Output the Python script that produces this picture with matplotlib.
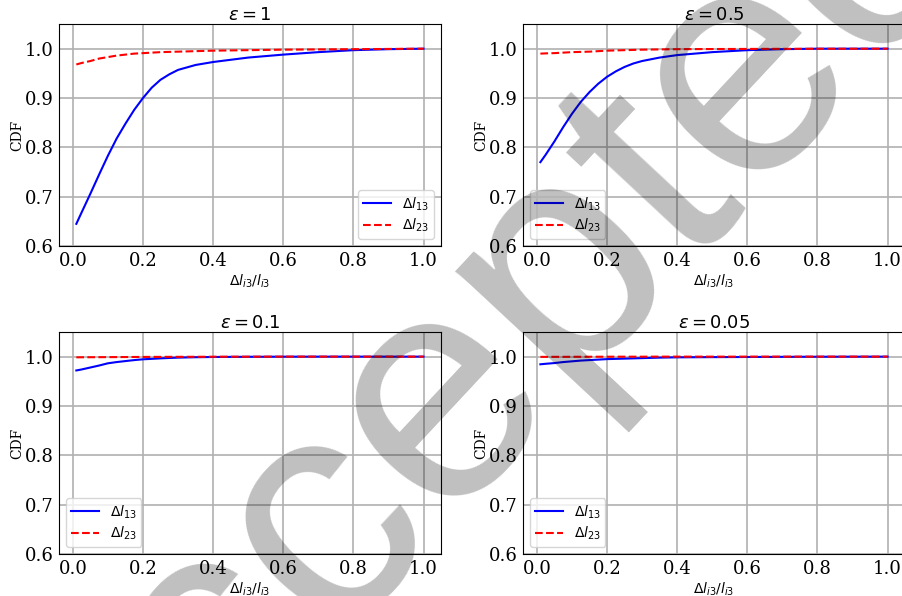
import numpy as np
import matplotlib
matplotlib.use('Agg')
import matplotlib.pyplot as plt

plt.rcParams['font.family'] = 'DejaVu Serif'
plt.rcParams['mathtext.fontset'] = 'dejavusans'

x = [0.01, 0.025, 0.05, 0.075, 0.1, 0.125, 0.15, 0.175, 0.2, 0.225, 0.25,
     0.275, 0.3, 0.35, 0.4, 0.5, 0.6, 0.7, 0.8, 0.9, 1.0]

# eps = 1
e1_13 = [0.645, 0.668, 0.706, 0.745, 0.783, 0.818, 0.848, 0.876, 0.900, 0.921, 0.937,
         0.948, 0.957, 0.967, 0.973, 0.982, 0.988, 0.993, 0.997, 0.999, 1.0]
e1_23 = [0.968, 0.971, 0.975, 0.980, 0.983, 0.986, 0.988, 0.990, 0.991, 0.992, 0.993,
         0.9935, 0.994, 0.995, 0.996, 0.997, 0.998, 0.9985, 0.999, 0.9995, 1.0]
# eps = 0.5
e05_13 = [0.770, 0.785, 0.812, 0.841, 0.868, 0.892, 0.912, 0.929, 0.943, 0.954, 0.963,
          0.970, 0.975, 0.982, 0.987, 0.993, 0.997, 0.999, 1.0, 1.0, 1.0]
e05_23 = [0.990, 0.9905, 0.991, 0.992, 0.993, 0.9935, 0.994, 0.995, 0.996, 0.9965, 0.997,
          0.9975, 0.998, 0.9985, 0.999, 0.9993, 0.9995, 0.9997, 0.9998, 0.9999, 1.0]
# eps = 0.1
e01_13 = [0.972, 0.974, 0.978, 0.982, 0.9865, 0.989, 0.991, 0.993, 0.9946, 0.9955, 0.9965,
          0.9973, 0.998, 0.9988, 0.9993, 0.9997, 0.9999, 1.0, 1.0, 1.0, 1.0]
e01_23 = [0.9986, 0.9987, 0.9988, 0.9989, 0.999, 0.9991, 0.9992, 0.9993, 0.9994, 0.9995, 0.9995,
          0.9996, 0.9996, 0.9997, 0.9998, 0.9999, 1.0, 1.0, 1.0, 1.0, 1.0]
# eps = 0.05
e005_13 = [0.9845, 0.9855, 0.987, 0.989, 0.9905, 0.992, 0.993, 0.994, 0.995, 0.9955, 0.996,
           0.9965, 0.997, 0.998, 0.9986, 0.999, 0.9993, 0.9996, 0.9998, 0.9999, 1.0]
e005_23 = [0.9995, 0.9995, 0.9996, 0.9996, 0.9997, 0.9997, 0.9998, 0.9998, 0.9998, 0.9999, 0.9999,
           0.9999, 0.9999, 1.0, 1.0, 1.0, 1.0, 1.0, 1.0, 1.0, 1.0]

titles = [r'$\varepsilon=1$', r'$\varepsilon=0.5$', r'$\varepsilon=0.1$', r'$\varepsilon=0.05$']
series = [(e1_13, e1_23), (e05_13, e05_23), (e01_13, e01_23), (e005_13, e005_23)]
legend_loc = ['lower right', 'lower left', 'lower left', 'lower left']
# axes boxes [left, bottom, width, height] in figure fraction
boxes = [[0.0653, 0.5872, 0.4230, 0.3725],
         [0.5792, 0.5872, 0.4230, 0.3725],
         [0.0653, 0.0705, 0.4230, 0.3725],
         [0.5792, 0.0705, 0.4230, 0.3725]]

fig = plt.figure(figsize=(9.03, 5.96), dpi=100)
for i in range(4):
    ax = fig.add_axes(boxes[i])
    ax.plot(x, series[i][0], 'b-', label=r'$\Delta l_{13}$')
    ax.plot(x, series[i][1], 'r--', label=r'$\Delta l_{23}$')
    ax.set_ylim(0.6, 1.05)
    ax.set_yticks([0.6, 0.7, 0.8, 0.9, 1.0])
    ax.set_xticks([0.0, 0.2, 0.4, 0.6, 0.8, 1.0])
    ax.tick_params(labelsize=13, length=0, pad=4)
    ax.grid(True, linewidth=1.2)
    ax.set_title(titles[i], fontsize=13, pad=3)
    ax.set_xlabel(r'$\Delta l_{i3}/l_{i3}$', fontsize=10, labelpad=2)
    ax.set_ylabel('CDF', fontsize=10, labelpad=0)
    ax.legend(loc=legend_loc[i], fontsize=10, labelspacing=0.3, borderpad=0.35)

# watermark
fig.text(0.526, 0.367, 'Accepted', fontsize=231, family='Liberation Sans',
         color='black', alpha=0.25, rotation=47, rotation_mode='anchor',
         ha='center', va='center', zorder=10)

fig.savefig('out.png', dpi=100)
